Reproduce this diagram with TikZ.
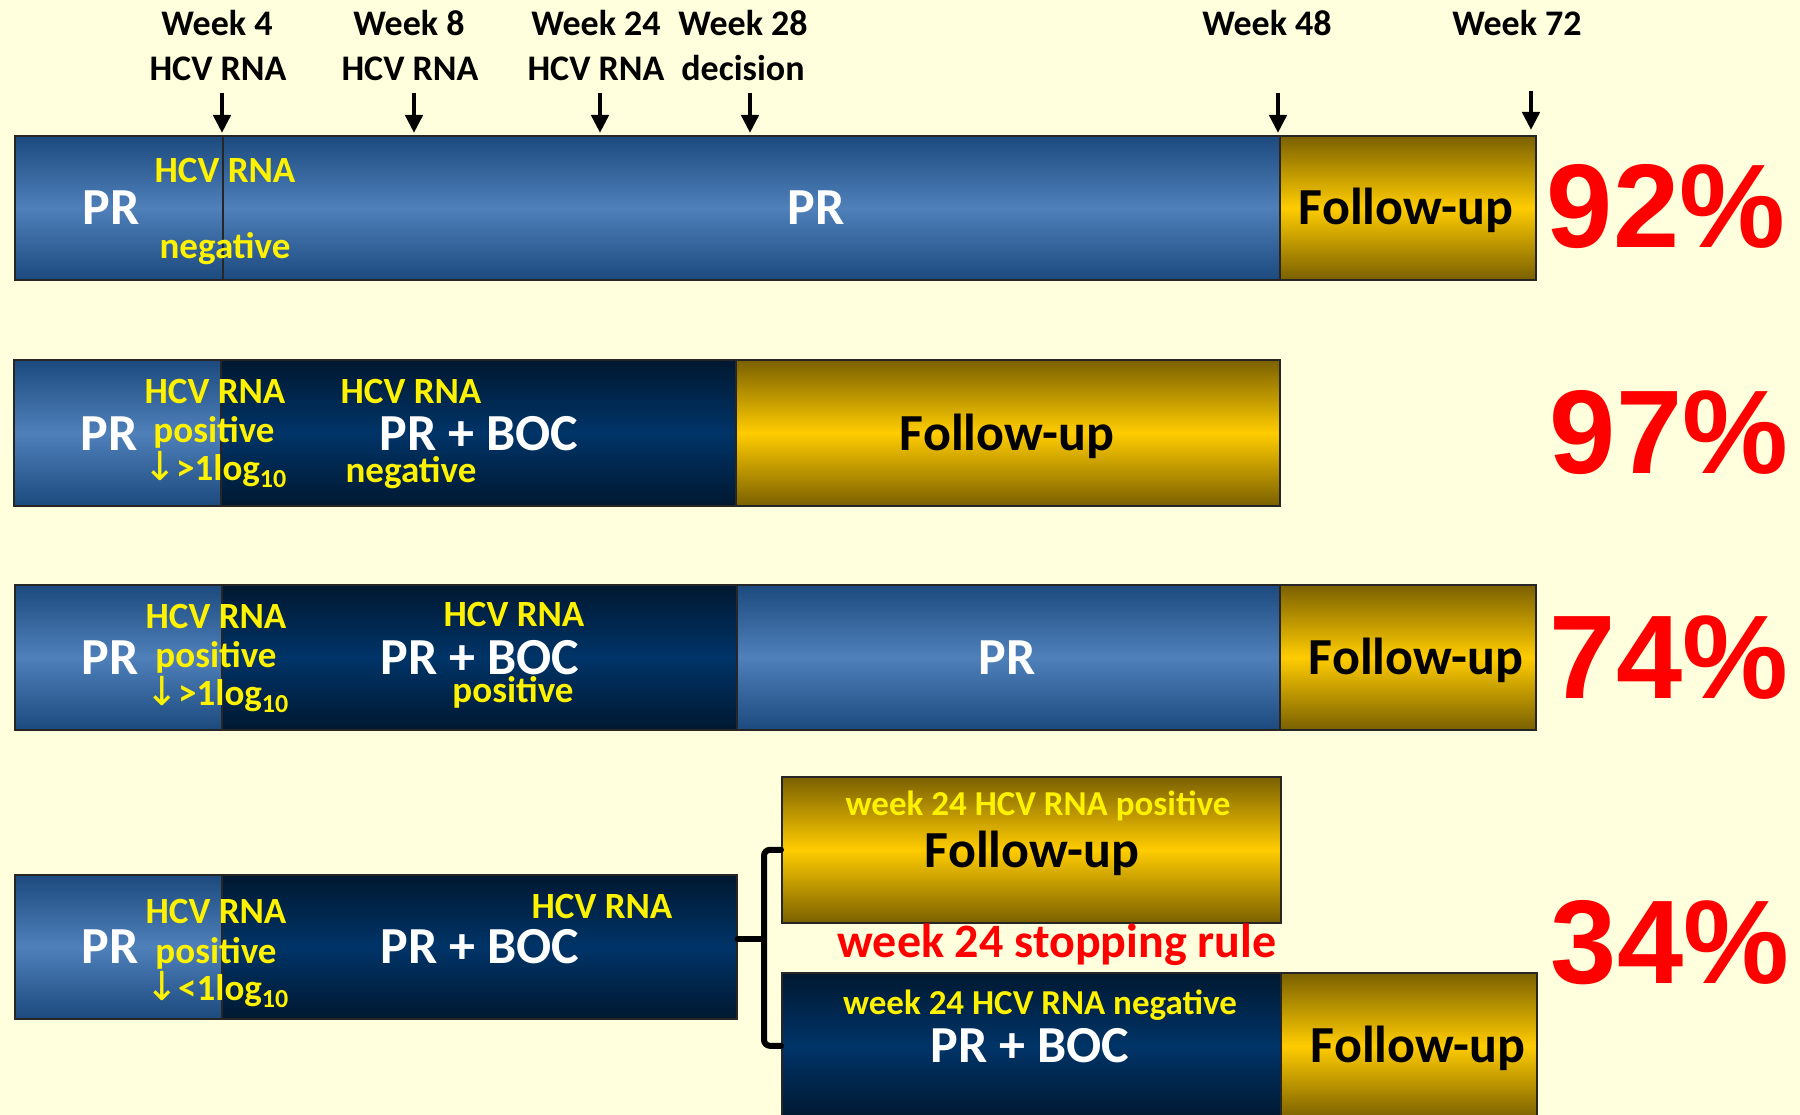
\documentclass[tikz,border=0pt]{standalone}
\usepackage{fontspec}
\setmainfont{Carlito}
\newfontfamily\pctfont{Liberation Sans}
\newfontfamily\arrowfont{DejaVu Sans}
\usetikzlibrary{arrows.meta}

\definecolor{paper}{HTML}{FFFFDD}
\definecolor{prdark}{HTML}{1C4A7E}
\definecolor{prlight}{HTML}{4F80BA}
\definecolor{bocdark}{HTML}{001830}
\definecolor{boclight}{HTML}{003468}
\definecolor{fudark}{HTML}{7A6000}
\definecolor{fulight}{HTML}{FFCC00}

\newcommand\fsz[1]{\fontsize{#1}{#1}\selectfont}
\newcommand\logdrop[1]{{\arrowfont\mdseries\fsz{40}↓}\kern-1pt#11log{\fsz{26}\raisebox{-7pt}{10}}}

\tikzset{
  seg/.style={anchor=north west, inner sep=0pt, draw=black!85, line width=1.6pt},
  prseg/.style={seg, top color=prdark, bottom color=prdark, middle color=prlight},
  bocseg/.style={seg, top color=bocdark, bottom color=bocdark, middle color=boclight},
  fuseg/.style={seg, top color=fudark, bottom color=fudark, middle color=fulight},
  lbl/.style={anchor=base, inner sep=0pt, font=\bfseries\fsz{36}, text=black},
  ylw/.style={anchor=base, inner sep=0pt, font=\bfseries\fsz{37}, text=yellow},
  ylwsm/.style={ylw, font=\bfseries\fsz{35}},
  big/.style={anchor=base, inner sep=0pt, font=\bfseries\fsz{52}, text=white},
  fu/.style={big, text=black},
  rule/.style={anchor=base, inner sep=0pt, font=\bfseries\fsz{48}, text=red},
  pct/.style={anchor=base, inner sep=0pt, font=\pctfont\bfseries\fsz{119}, text=red},
  warrow/.style={line width=4.5pt, -{Triangle[length=18pt,width=17pt]}},
  brk/.style={line width=6pt, rounded corners=6pt, line cap=round}
}

\begin{document}
\begin{tikzpicture}[x=1pt, y=-1pt]
\fill[paper] (0,0) rectangle (1800,1115);
\clip (0,0) rectangle (1800,1115);

% time points
\node[lbl] (w4a) at (217,36) {Week 4};
\node[lbl] (w4b) at (218,81) {HCV RNA};
\node[lbl] (w8a) at (409,36) {Week 8};
\node[lbl] (w8b) at (410,81) {HCV RNA};
\node[lbl] (w24a) at (596,36) {Week 24};
\node[lbl] (w24b) at (596,81) {HCV RNA};
\node[lbl] (w28a) at (743,36) {Week 28};
\node[lbl] (w28b) at (743,81) {decision};
\node[lbl] (w48a) at (1267,36) {Week 48};
\node[lbl] (w72a) at (1517,36) {Week 72};

\coordinate (a4s) at (222,93);   \coordinate (a4e) at (222,133);
\coordinate (a8s) at (414,93);   \coordinate (a8e) at (414,133);
\coordinate (a24s) at (600,93);  \coordinate (a24e) at (600,133);
\coordinate (a28s) at (750,93);  \coordinate (a28e) at (750,133);
\coordinate (a48s) at (1278,93); \coordinate (a48e) at (1278,133);
\coordinate (a72s) at (1531,91); \coordinate (a72e) at (1531,130);
\foreach \p in {4,8,24,28,48,72} \draw[warrow] (a\p s) -- (a\p e);

% row 1: rapid responders
\node[prseg, minimum width=208pt, minimum height=144pt] (r1a) at (14,135) {};
\node[prseg, minimum width=1057pt, minimum height=144pt] (r1b) at (222,135) {};
\node[fuseg, minimum width=256pt, minimum height=144pt] (r1c) at (1279,135) {};
\node[big] at (111,225) {PR};
\node[ylw] at (225,183) {HCV RNA};
\node[ylw] at (225,259) {negative};
\node[big] at (816,225) {PR};
\node[fu] at (1406,225) {Follow-up};
\node[pct] at (1666,248) {92\%};

% row 2
\node[prseg, minimum width=207pt, minimum height=146pt] (r2a) at (13,359) {};
\node[bocseg, minimum width=515pt, minimum height=146pt] (r2b) at (220,359) {};
\node[fuseg, minimum width=544pt, minimum height=146pt] (r2c) at (735,359) {};
\node[big] at (109,450) {PR};
\node[ylw] at (215,403) {HCV RNA};
\node[ylw] at (214,442) {positive};
\node[ylw] at (215,480) {\logdrop{>}};
\node[ylw] at (411,403) {HCV RNA};
\node[big] at (479,450) {PR + BOC};
\node[ylw] at (411,482) {negative};
\node[fu] at (1007,450) {Follow-up};
\node[pct] at (1669,473) {97\%};

% row 3
\node[prseg, minimum width=207pt, minimum height=145pt] (r3a) at (14,584) {};
\node[bocseg, minimum width=515pt, minimum height=145pt] (r3b) at (221,584) {};
\node[prseg, minimum width=543pt, minimum height=145pt] (r3c) at (736,584) {};
\node[fuseg, minimum width=256pt, minimum height=145pt] (r3d) at (1279,584) {};
\node[big] at (110,674) {PR};
\node[ylw] at (216,628) {HCV RNA};
\node[ylw] at (216,667) {positive};
\node[ylw] at (217,705) {\logdrop{>}};
\node[ylw] at (514,626) {HCV RNA};
\node[big] at (480,674) {PR + BOC};
\node[ylw] at (513,702) {positive};
\node[big] at (1007,674) {PR};
\node[fu] at (1416,674) {Follow-up};
\node[pct] at (1669,698) {74\%};

% row 4: poor responders and the week 24 split
\node[prseg, minimum width=207pt, minimum height=144pt] (r4a) at (14,874) {};
\node[bocseg, minimum width=515pt, minimum height=144pt] (r4b) at (221,874) {};
\node[big] at (110,963) {PR};
\node[ylw] at (216,923) {HCV RNA};
\node[ylw] at (216,963) {positive};
\node[ylw] at (217,1000) {\logdrop{<}};
\node[ylw] at (602,918) {HCV RNA};
\node[big] at (480,963) {PR + BOC};
\node[pct] at (1670,983) {34\%};

\node[fuseg, minimum width=499pt, minimum height=146pt] (u1) at (781,776) {};
\node[bocseg, minimum width=499pt, minimum height=146pt] (l1) at (781,972) {};
\node[fuseg, minimum width=256pt, minimum height=146pt] (l2) at (1280,972) {};
\node[ylwsm] at (1038,815) {week 24 HCV RNA positive};
\node[fu] at (1032,867) {Follow-up};
\node[rule] at (1057,957) {week 24 stopping rule};
\node[ylwsm] at (1040,1014) {week 24 HCV RNA negative};
\node[big] at (1030,1062) {PR + BOC};
\node[fu] at (1418,1062) {Follow-up};

\coordinate (bx) at (764,939);
\draw[brk] (u1.west) -| (bx) |- (l1.west);
\draw[brk] (r4b.east |- bx) -- (bx);
\end{tikzpicture}
\end{document}
